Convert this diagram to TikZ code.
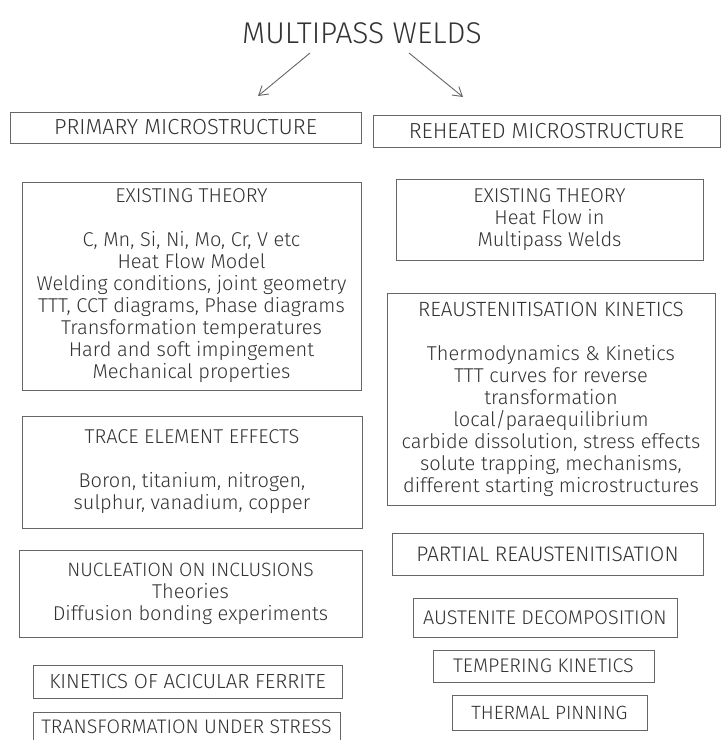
\documentclass[tikz,border=0pt]{standalone}
\usepackage{fontspec}
\setmainfont{Fira Sans Light}
\usetikzlibrary{arrows.meta}
\newcommand{\hdr}[2]{{\fontsize{#1}{22}\selectfont #2}}
\begin{document}
\begin{tikzpicture}[x=1pt,y=-1pt]
\tikzset{
  boxed/.style={draw=black!60, line width=1pt, inner sep=0pt, align=center, text=black!80},
  capsize/.style={font=\fontsize{#1}{22}\selectfont},
  capsize/.default=20,
  bodysize/.style={font=\fontsize{20}{22}\selectfont},
  conn/.style={draw=black!60, line width=0.9pt, -{Straight Barb[length=9pt,width=11pt]}}
}
\fill[white] (0,0) rectangle (721,740);
\useasboundingbox (0,0) rectangle (721,740);
\clip (0,0) rectangle (721,740);

% title
\node[text=black!80, font=\fontsize{30}{34}\selectfont, inner sep=0pt] (title) at (362,33) {MULTIPASS WELDS};
\coordinate (la1) at (310,53);
\coordinate (la2) at (258,96);
\coordinate (ra1) at (409,53);
\coordinate (ra2) at (463,97);
\draw[conn] (la1) -- (la2);
\draw[conn] (ra1) -- (ra2);

% top boxes
\node[boxed, capsize=21.8, minimum width=351pt, minimum height=31pt] (prim) at (185.5,127.5) {PRIMARY MICROSTRUCTURE};
\node[boxed, capsize=21.8, minimum width=347pt, minimum height=32pt] (reh) at (546.5,131) {REHEATED MICROSTRUCTURE};

% left column
\node[boxed, bodysize, minimum width=339pt, minimum height=208pt] (etl) at (191.5,286) {%
\hdr{20}{EXISTING THEORY}\\[22pt]
C, Mn, Si, Ni, Mo, Cr, V etc\\
Heat Flow Model\\
Welding conditions, joint geometry\\
TTT, CCT diagrams, Phase diagrams\\
Transformation temperatures\\
Hard and soft impingement\\
Mechanical properties};

\node[boxed, bodysize, minimum width=340pt, minimum height=112pt] (trace) at (192,472) {%
\hdr{20}{TRACE ELEMENT EFFECTS}\\[22pt]
Boron, titanium, nitrogen,\\
sulphur, vanadium, copper};

\node[boxed, bodysize, minimum width=343pt, minimum height=87pt] (nucl) at (190.5,593.5) {%
\hdr{19.3}{NUCLEATION ON INCLUSIONS}\\
Theories\\
Diffusion bonding experiments};

\node[boxed, capsize=20.4, minimum width=309pt, minimum height=33pt] (acic) at (187.5,681.5) {KINETICS OF ACICULAR FERRITE};
\node[boxed, capsize=19.6, minimum width=307pt, minimum height=30pt] (stress) at (186.5,727) {TRANSFORMATION UNDER STRESS};

% right column
\node[boxed, bodysize, minimum width=307pt, minimum height=81pt] (etr) at (549.5,219.5) {%
\hdr{20}{EXISTING THEORY}\\
Heat Flow in\\
Multipass Welds};

\node[boxed, bodysize, minimum width=328pt, minimum height=212pt] (reaus) at (551,399) {%
\hdr{20.6}{REAUSTENITISATION KINETICS}\\[22pt]
Thermodynamics \& Kinetics\\
TTT curves for reverse\\
transformation\\
local/paraequilibrium\\
carbide dissolution, stress effects\\
solute trapping, mechanisms,\\
different starting microstructures};

\node[boxed, capsize=21, minimum width=311pt, minimum height=42pt] (partial) at (547.5,554) {PARTIAL REAUSTENITISATION};
\node[boxed, capsize=19.8, minimum width=264pt, minimum height=39pt] (decomp) at (545,617.5) {AUSTENITE DECOMPOSITION};
\node[boxed, capsize=19.7, minimum width=221pt, minimum height=32pt] (temper) at (543.5,666) {TEMPERING KINETICS};
\node[boxed, capsize=19.2, minimum width=195pt, minimum height=35pt] (pinning) at (549.5,712.5) {THERMAL PINNING};
\end{tikzpicture}
\end{document}
